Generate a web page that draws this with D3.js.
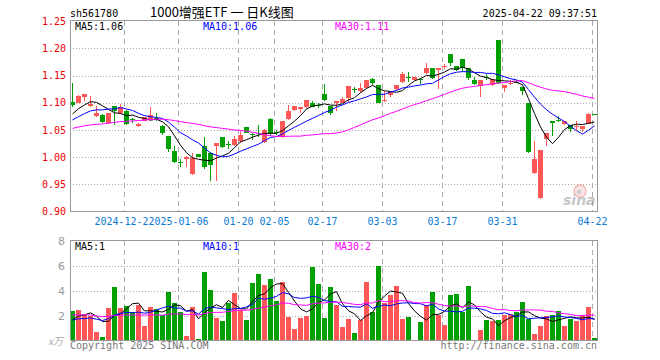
<!DOCTYPE html>
<html>
<head>
<meta charset="utf-8">
<script src="https://cdn.jsdelivr.net/npm/d3@7"></script>
<style>
body { margin: 0; background: #fff; }
svg { display: block; }
text { font-family: "DejaVu Sans Mono", monospace; font-size: 10px; }
</style>
</head>
<body>
<svg width="660" height="360"></svg>
<script>
var dates = ["2024-12-10","2024-12-11","2024-12-12","2024-12-13","2024-12-16","2024-12-17","2024-12-18","2024-12-19","2024-12-20","2024-12-23","2024-12-24","2024-12-25","2024-12-26","2024-12-27","2024-12-30","2024-12-31",
  "2025-01-02","2025-01-03","2025-01-06","2025-01-07","2025-01-08","2025-01-09","2025-01-10","2025-01-13","2025-01-14","2025-01-15","2025-01-16","2025-01-17","2025-01-20","2025-01-21","2025-01-22","2025-01-23","2025-01-24","2025-01-27",
  "2025-02-05","2025-02-06","2025-02-07","2025-02-10","2025-02-11","2025-02-12","2025-02-13","2025-02-14","2025-02-17","2025-02-18","2025-02-19","2025-02-20","2025-02-21","2025-02-24","2025-02-25","2025-02-26","2025-02-27","2025-02-28",
  "2025-03-03","2025-03-04","2025-03-05","2025-03-06","2025-03-07","2025-03-10","2025-03-11","2025-03-12","2025-03-13","2025-03-14","2025-03-17","2025-03-18","2025-03-19","2025-03-20","2025-03-21","2025-03-24","2025-03-25","2025-03-26","2025-03-27","2025-03-28","2025-03-31",
  "2025-04-01","2025-04-02","2025-04-03","2025-04-07","2025-04-08","2025-04-09","2025-04-10","2025-04-11","2025-04-14","2025-04-15","2025-04-16","2025-04-17","2025-04-18","2025-04-21","2025-04-22"];

var open = [1.102,1.100,1.111,1.094,1.076,1.078,1.062,1.094,1.081,1.085,
  1.070,1.058,1.067,1.070,1.072,1.058,1.039,1.012,0.991,0.996,
  0.969,1.006,1.021,1.007,1.020,1.037,1.025,1.023,1.029,1.056,
  1.043,1.044,1.028,1.070,1.047,1.037,1.070,1.086,1.089,1.092,
  1.099,1.096,1.116,1.094,1.099,1.100,1.108,1.125,1.122,1.127,
  1.143,1.133,1.104,1.115,1.125,1.138,1.148,1.142,1.144,1.154,
  1.163,1.160,1.167,1.190,1.167,1.180,1.163,1.142,1.131,1.148,
  1.133,1.215,1.127,1.136,1.139,1.129,1.100,0.971,0.925,1.033,
  1.067,1.069,1.061,1.059,1.056,1.051,1.061,1.079];
var high = [1.137,1.114,1.116,1.113,1.094,1.080,1.081,1.094,1.098,1.087,
  1.072,1.062,1.073,1.092,1.081,1.059,1.039,1.021,0.996,1.002,
  1.007,1.006,1.037,1.009,1.026,1.037,1.030,1.039,1.048,1.056,
  1.045,1.059,1.051,1.072,1.050,1.067,1.096,1.094,1.092,1.105,
  1.104,1.100,1.134,1.094,1.103,1.111,1.131,1.129,1.136,1.142,
  1.146,1.133,1.122,1.122,1.133,1.157,1.157,1.147,1.146,1.173,
  1.163,1.163,1.171,1.190,1.168,1.180,1.163,1.147,1.142,1.152,
  1.144,1.215,1.133,1.141,1.142,1.129,1.100,1.030,1.014,1.044,
  1.067,1.075,1.066,1.059,1.066,1.058,1.081,1.079];
var low = [1.093,1.099,1.104,1.093,1.073,1.062,1.061,1.059,1.080,1.060,
  1.062,1.056,1.066,1.067,1.067,1.041,1.009,0.990,0.982,0.983,
  0.968,1.000,0.978,0.957,0.957,1.017,1.015,1.020,1.027,1.044,
  1.032,1.038,1.026,1.039,1.041,1.035,1.069,1.084,1.081,1.090,
  1.092,1.090,1.103,1.078,1.084,1.099,1.102,1.118,1.118,1.125,
  1.133,1.099,1.102,1.110,1.122,1.136,1.139,1.141,1.135,1.153,
  1.143,1.125,1.162,1.167,1.159,1.157,1.142,1.133,1.111,1.142,
  1.130,1.134,1.119,1.133,1.136,1.115,1.007,0.969,0.923,1.020,
  1.039,1.064,1.059,1.047,1.050,1.047,1.061,1.078];
var close = [1.096,1.113,1.116,1.098,1.081,1.064,1.081,1.084,1.092,1.061,
  1.069,1.061,1.073,1.077,1.069,1.045,1.015,0.991,0.990,1.001,
  0.998,1.001,0.983,0.985,1.026,1.018,1.024,1.034,1.040,1.045,
  1.042,1.042,1.050,1.042,1.044,1.067,1.085,1.094,1.092,1.105,
  1.093,1.095,1.105,1.081,1.103,1.107,1.131,1.124,1.128,1.141,
  1.136,1.100,1.105,1.122,1.133,1.152,1.147,1.147,1.143,1.163,
  1.145,1.163,1.168,1.173,1.160,1.163,1.145,1.135,1.142,1.147,
  1.144,1.136,1.133,1.137,1.138,1.121,1.009,0.996,1.014,1.044,
  1.062,1.068,1.066,1.051,1.057,1.058,1.080,1.078];
// volume in 万
var volume = [2.4,2.48,2.05,2.0,0.72,0.32,2.64,4.32,2.64,2.8,
  2.32,2.88,1.2,2.72,2.53,2.08,3.92,3.04,2.32,0.4,
  2.72,0.16,5.52,4.08,1.84,1.6,2.99,3.84,2.48,1.68,
  4.64,5.36,4.48,4.96,3.2,4.72,1.92,0.96,1.84,2.0,
  5.92,4.56,1.84,4.32,2.88,1.07,1.76,0.64,1.68,4.72,
  2.32,6.0,3.04,3.68,4.4,1.76,1.92,0.08,1.52,2.88,
  3.92,2.05,1.28,3.68,3.76,2.32,4.4,0.08,0.88,1.68,
  1.6,1.68,2.08,2.16,2.32,3.12,1.76,0.56,1.2,2.0,
  2.08,2.4,1.2,1.76,1.6,2.08,2.72,0.24];

// sessions before the first visible bar, only used to start the moving averages
var prevClose = [1.040,1.046,1.052,1.048,1.043,1.038,1.041,1.047,1.050,1.044,
  1.039,1.045,1.051,1.049,1.046,1.042,1.040,1.047,1.052,1.045,
  1.052,1.060,1.049,1.062,1.064,1.066,1.081,1.068,1.087];
var prevVolume = [2.6,1.8,2.4,3.1,2.0,1.7,2.5,2.2,1.9,2.8,
  2.3,1.6,2.1,2.9,2.4,1.8,2.2,2.6,1.9,2.4,
  1.4,1.9,1.5,1.7,1.4,1.13,1.55,1.18,2.14];

var priceTicks = [0.90,0.95,1.00,1.05,1.10,1.15,1.20,1.25];
var volumeTicks = [2,4,6,8];
var dateTicks = ["2024-12-23","2025-01-06","2025-01-20","2025-02-05","2025-02-17","2025-03-03","2025-03-17","2025-03-31","2025-04-22"];
var dateTickLabels = ["2024-12-23","2025-01-06","01-20","02-05","02-17","03-03","03-17","03-31","04-22"];
var maPeriods = [5,10,30];
var maColors = ["#000000","#0000ff","#ff00ff"];

var svg = d3.select("svg"),
    left = 70, right = 597;
var upColor = "#ff5656", downColor = "#00a000";

var x = d3.scaleBand()
    .domain(dates)
    .range([left, right])
    .paddingInner(1 / 6)
    .paddingOuter(0);
var y = d3.scaleLinear().domain([0.90, 1.25]).range([211.7, 21.1]);
var yv = d3.scaleLinear().domain([0, 8]).range([340.5, 240.5]);

function movingAvg(prev, vals, n) {
    var all = prev.concat(vals);
    return vals.map(function(d, i) {
        var j = i + prev.length;
        return d3.mean(all.slice(j - n + 1, j + 1));
    });
}
var isUp = function(i) { return close[i] >= open[i]; };
var cx = function(i) { return x(dates[i]) + x.bandwidth() / 2; };

// header
svg.append("text").attr("x", 70).attr("y", 17).text("sh561780");
svg.append("text").attr("x", 150).attr("y", 17)
    .style("font-family", '"Noto Sans CJK SC", sans-serif').style("font-size", "13px")
    .text("1000增强ETF 一 日K线图");
svg.append("text").attr("x", 597).attr("y", 17).attr("text-anchor", "end").text("2025-04-22 09:37:51");

function panel(top, bottom) {
    var g = svg.append("g");
    g.selectAll(".vgrid")
        .data(dateTicks)
        .enter()
        .append("line")
        .attr("x1", function(d) { return x(d) + 0.5; })
        .attr("x2", function(d) { return x(d) + 0.5; })
        .attr("y1", top).attr("y2", bottom)
        .style("stroke", "#aaa")
        .style("stroke-dasharray", "5,4");
    return g;
}

// price panel
var pg = panel(21, 211);
pg.selectAll(".hgrid")
    .data(priceTicks.slice(1, -1))
    .enter()
    .append("line")
    .attr("x1", left).attr("x2", right)
    .attr("y1", function(d) { return Math.round(y(d)) + 0.5; })
    .attr("y2", function(d) { return Math.round(y(d)) + 0.5; })
    .style("stroke", "#aaa")
    .style("stroke-dasharray", "1,2");

// sina watermark
var wm = svg.append("g").style("opacity", 0.55);
wm.append("circle").attr("cx", 580).attr("cy", 191).attr("r", 6)
    .style("fill", "#fbd0d0").style("stroke", "#f08080").style("stroke-width", 1.5);
wm.append("circle").attr("cx", 579).attr("cy", 192).attr("r", 2.5).style("fill", "#aaa");
wm.append("text").attr("x", 563).attr("y", 205)
    .style("font-family", '"DejaVu Sans", sans-serif').style("font-size", "14px")
    .style("font-weight", "bold").style("font-style", "italic").style("fill", "#999")
    .text("sina");

var candles = svg.append("g")
    .selectAll("g")
    .data(dates)
    .enter()
    .append("g")
    .style("shape-rendering", "crispEdges");
candles.append("line")
    .attr("x1", function(d, i) { return cx(i); })
    .attr("x2", function(d, i) { return cx(i); })
    .attr("y1", function(d, i) { return y(high[i]); })
    .attr("y2", function(d, i) { return y(low[i]); })
    .style("stroke", function(d, i) { return isUp(i) ? upColor : downColor; });
candles.append("rect")
    .attr("x", function(d) { return x(d); })
    .attr("width", x.bandwidth())
    .attr("y", function(d, i) { return y(Math.max(open[i], close[i])); })
    .attr("height", function(d, i) { return Math.max(1, Math.abs(y(open[i]) - y(close[i]))); })
    .style("fill", function(d, i) { return isUp(i) ? upColor : downColor; });

var priceMA = maPeriods.map(function(n) { return movingAvg(prevClose, close, n); });
var line = d3.line()
    .x(function(d, i) { return cx(i); });
priceMA.forEach(function(ma, k) {
    svg.append("path")
        .attr("d", line.y(function(d) { return y(d); })(ma))
        .style("fill", "none")
        .style("stroke", maColors[k])
        .style("stroke-width", 1);
});

svg.append("rect")
    .attr("x", 70.5).attr("y", 20.5).attr("width", 527).attr("height", 191)
    .style("fill", "none").style("stroke", "#999");

var maLabelX = [75, 203, 335];
priceMA.forEach(function(ma, k) {
    svg.append("text").attr("x", maLabelX[k]).attr("y", 30)
        .style("fill", maColors[k])
        .text("MA" + maPeriods[k] + ":" + ma[ma.length - 1].toFixed(2));
});

var yAxis = svg.append("g")
    .attr("transform", "translate(" + left + ",0)")
    .call(d3.axisLeft(y).tickValues(priceTicks).tickFormat(d3.format(".2f")).tickSize(0).tickPadding(4));
yAxis.select(".domain").remove();
yAxis.selectAll("text")
    .style("fill", "#ee0000")
    .style("font-family", '"DejaVu Sans Mono", monospace').style("font-size", "10px");

// date labels: each one paints a white box, so a later label hides the tail of an earlier one
var dl = svg.append("g")
    .selectAll("g")
    .data(dateTicks)
    .enter()
    .append("g");
dl.append("rect")
    .attr("x", function(d, i) { return x(d) + 0.5 - dateTickLabels[i].length * 3; })
    .attr("y", 216)
    .attr("width", function(d, i) { return dateTickLabels[i].length * 6; })
    .attr("height", 11)
    .style("fill", "#fff");
dl.append("text")
    .attr("x", function(d) { return x(d) + 0.5; })
    .attr("y", 225)
    .attr("text-anchor", "middle")
    .style("fill", "#0a7ad6")
    .text(function(d, i) { return dateTickLabels[i]; });

// volume panel
var vg = panel(241, 340);
vg.selectAll(".hgrid")
    .data(volumeTicks.slice(0, -1))
    .enter()
    .append("line")
    .attr("x1", left).attr("x2", right)
    .attr("y1", function(d) { return Math.round(yv(d)) + 0.5; })
    .attr("y2", function(d) { return Math.round(yv(d)) + 0.5; })
    .style("stroke", "#aaa")
    .style("stroke-dasharray", "1,2");

svg.append("g")
    .selectAll("rect")
    .data(volume)
    .enter()
    .append("rect")
    .attr("x", function(d, i) { return x(dates[i]); })
    .attr("width", x.bandwidth())
    .attr("y", function(d) { return yv(d); })
    .attr("height", function(d) { return yv(0) - yv(d); })
    .style("shape-rendering", "crispEdges")
    .style("fill", function(d, i) { return isUp(i) ? upColor : downColor; });

var volMA = maPeriods.map(function(n) { return movingAvg(prevVolume, volume, n); });
volMA.forEach(function(ma, k) {
    svg.append("path")
        .attr("d", line.y(function(d) { return yv(d); })(ma))
        .style("fill", "none")
        .style("stroke", maColors[k])
        .style("stroke-width", 1);
});

svg.append("rect")
    .attr("x", 70.5).attr("y", 240.5).attr("width", 527).attr("height", 100)
    .style("fill", "none").style("stroke", "#999");

volMA.forEach(function(ma, k) {
    svg.append("text").attr("x", maLabelX[k]).attr("y", 250)
        .style("fill", maColors[k])
        .text("MA" + maPeriods[k] + ":" + Math.floor(ma[ma.length - 1]));
});

var vAxis = svg.append("g")
    .attr("transform", "translate(" + left + ",0)")
    .call(d3.axisLeft(yv).tickValues(volumeTicks).tickFormat(d3.format("d")).tickSize(0).tickPadding(5));
vAxis.select(".domain").remove();
vAxis.selectAll("text")
    .style("fill", "#999")
    .style("font-family", '"DejaVu Sans", sans-serif').style("font-size", "11px");

svg.append("text").attr("x", 48).attr("y", 345)
    .style("font-family", '"Noto Sans CJK SC", sans-serif').style("font-style", "italic")
    .style("font-size", "10px").style("fill", "#aaa")
    .text("x万");

svg.append("text").attr("x", 70).attr("y", 349).style("fill", "#777").text("Copyright 2025 SINA.COM");
svg.append("text").attr("x", 597).attr("y", 349).attr("text-anchor", "end").style("fill", "#777").text("http://finance.sina.com.cn");
</script>
</body>
</html>
